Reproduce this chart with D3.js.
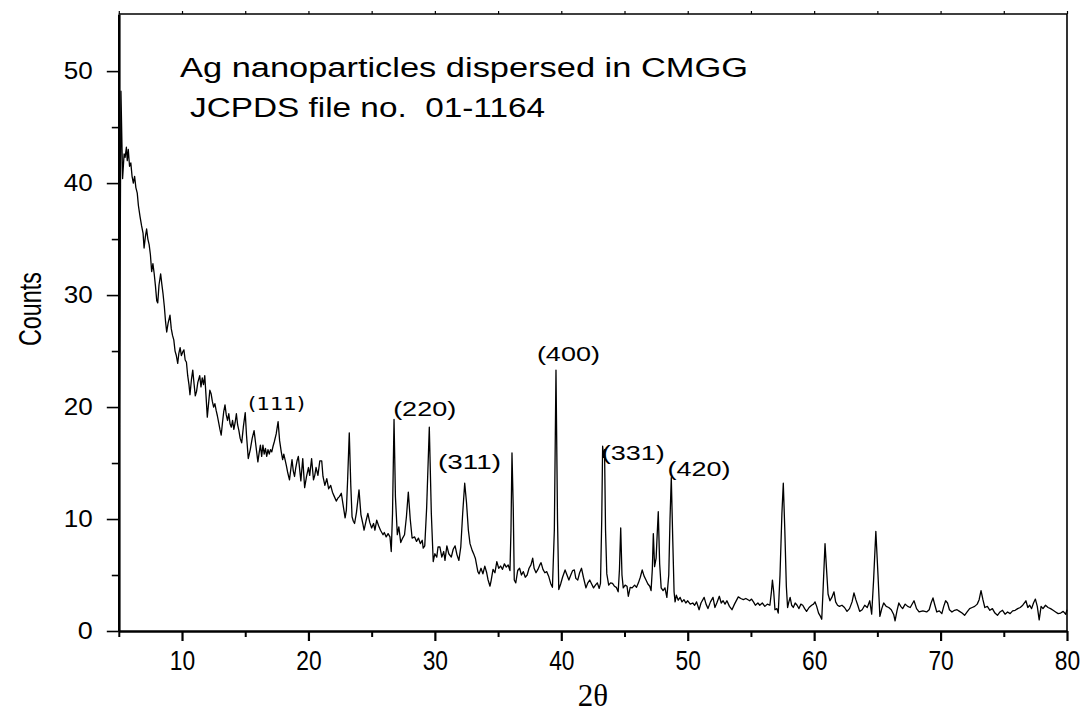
<!DOCTYPE html>
<html>
<head>
<meta charset="utf-8">
<script src="https://cdn.jsdelivr.net/npm/d3@7"></script>
<style>
  body { margin: 0; background: #fff; }
  .axis path, .axis line { stroke: #000; }
  .axis text { fill: #000; }
</style>
</head>
<body>
<div id="chart"></div>
<script>
// XRD pattern: [2theta, counts]
let pattern = [
  [5.00, 0], [5.05, 20], [5.17, 48.2], [5.30, 40.4], [5.42, 42.6], [5.50, 42.3], [5.60, 43.2], [5.67, 42.0],
  [5.75, 43.0], [5.85, 41.5], [5.95, 41.8], [6.05, 40.6], [6.15, 40.0], [6.25, 40.6], [6.35, 39.6], [6.46, 39.1],
  [6.55, 38.0], [6.68, 37.0], [6.80, 36.2], [6.92, 35.5], [7.00, 34.2], [7.10, 35.2], [7.20, 35.9], [7.30, 35.0],
  [7.40, 34.5], [7.50, 33.6], [7.60, 32.1], [7.70, 32.8], [7.80, 31.9], [7.90, 30.8], [8.00, 29.5], [8.08, 29.3],
  [8.18, 30.9], [8.31, 31.9], [8.40, 31.0], [8.50, 30.1], [8.60, 29.0], [8.70, 27.6], [8.79, 26.7], [8.90, 27.5],
  [9.05, 28.2], [9.15, 27.0], [9.25, 26.4], [9.35, 26.0], [9.45, 25.0], [9.55, 24.6], [9.66, 23.9], [9.75, 24.8],
  [9.85, 25.3], [9.95, 24.6], [10.05, 24.9], [10.15, 25.1], [10.25, 24.2], [10.35, 24.0], [10.45, 22.8], [10.55, 22.0],
  [10.63, 21.1], [10.75, 22.5], [10.85, 23.3], [10.95, 22.1], [11.05, 21.0], [11.15, 21.4], [11.25, 22.2], [11.40, 22.8],
  [11.50, 21.8], [11.60, 22.6], [11.70, 22.0], [11.80, 22.8], [11.90, 21.0], [12.00, 19.1], [12.10, 20.3], [12.20, 21.5],
  [12.30, 21.2], [12.40, 20.5], [12.50, 20.0], [12.60, 20.3], [12.70, 19.7], [12.80, 19.2], [12.90, 18.6], [13.00, 18.0],
  [13.10, 17.5], [13.20, 18.6], [13.30, 19.6], [13.40, 20.2], [13.50, 19.3], [13.60, 18.8], [13.70, 19.4], [13.80, 18.5],
  [13.90, 18.2], [14.00, 18.8], [14.10, 18.0], [14.20, 18.6], [14.30, 19.4], [14.40, 18.4], [14.50, 17.9], [14.60, 17.2],
  [14.72, 16.8], [14.85, 18.2], [15.00, 19.5], [15.10, 17.5], [15.24, 15.4], [15.40, 16.2], [15.55, 17.2], [15.70, 17.9],
  [15.85, 16.5], [16.00, 15.1], [16.10, 15.9], [16.20, 16.6], [16.30, 15.6], [16.40, 16.6], [16.50, 15.8], [16.60, 16.3],
  [16.70, 15.6], [16.80, 16.2], [16.90, 15.8], [17.00, 16.2], [17.10, 16.0], [17.20, 16.5], [17.30, 16.9], [17.45, 17.6],
  [17.60, 18.7], [17.72, 17.0], [17.85, 16.0], [17.96, 15.3], [18.05, 15.8], [18.15, 15.3], [18.25, 14.8], [18.35, 14.2],
  [18.50, 13.5], [18.60, 14.4], [18.70, 15.3], [18.80, 14.3], [18.90, 13.8], [19.00, 14.6], [19.10, 15.2], [19.20, 15.6],
  [19.30, 14.5], [19.40, 13.4], [19.55, 15.4], [19.70, 12.8], [19.85, 13.8], [20.00, 14.6], [20.10, 13.9], [20.25, 15.4],
  [20.40, 13.5], [20.50, 13.9], [20.60, 14.6], [20.75, 13.9], [20.90, 15.2], [21.05, 15.2], [21.15, 13.8], [21.30, 13.0],
  [21.45, 13.6], [21.60, 12.7], [21.76, 13.0], [21.90, 12.4], [22.05, 12.0], [22.20, 11.6], [22.35, 11.9], [22.45, 12.0],
  [22.60, 12.3], [22.75, 11.2], [22.90, 10.1], [23.00, 10.8], [23.10, 13.5], [23.23, 17.7], [23.35, 13.0], [23.45, 10.2],
  [23.55, 9.8], [23.65, 9.6], [23.80, 10.6], [24.00, 12.6], [24.15, 10.4], [24.30, 9.6], [24.40, 9.0], [24.55, 9.8],
  [24.70, 10.5], [24.85, 9.7], [25.00, 9.2], [25.15, 9.6], [25.26, 9.0], [25.40, 9.9], [25.55, 9.4], [25.70, 9.0],
  [25.90, 8.6], [26.00, 8.8], [26.15, 8.4], [26.30, 8.7], [26.45, 8.4], [26.55, 7.1], [26.65, 10.5], [26.77, 18.9],
  [26.88, 12.0], [27.03, 8.6], [27.15, 9.3], [27.30, 7.9], [27.45, 8.3], [27.60, 8.6], [27.75, 10.2], [27.90, 12.4],
  [28.05, 10.0], [28.20, 8.3], [28.40, 8.4], [28.55, 8.0], [28.70, 8.3], [28.85, 7.8], [29.00, 8.1], [29.08, 7.4],
  [29.20, 7.6], [29.35, 11.0], [29.56, 18.2], [29.72, 10.5], [29.87, 6.2], [30.00, 6.9], [30.15, 6.6], [30.25, 7.5],
  [30.40, 7.5], [30.55, 6.6], [30.70, 7.1], [30.80, 6.3], [30.95, 7.6], [31.10, 6.9], [31.30, 6.6], [31.45, 7.3],
  [31.60, 7.6], [31.75, 6.8], [31.90, 6.3], [32.05, 7.5], [32.20, 10.5], [32.36, 13.2], [32.50, 11.5], [32.65, 9.0],
  [32.78, 7.8], [32.95, 7.2], [33.10, 6.8], [33.20, 6.5], [33.40, 5.3], [33.50, 5.1], [33.65, 5.6], [33.80, 5.1],
  [33.95, 5.8], [34.10, 5.2], [34.20, 4.6], [34.36, 4.0], [34.45, 4.5], [34.60, 5.5], [34.75, 5.2], [34.90, 6.2],
  [35.05, 5.6], [35.20, 5.8], [35.35, 5.5], [35.50, 6.0], [35.65, 5.7], [35.80, 5.9], [35.94, 5.4], [36.02, 9.0],
  [36.10, 15.9], [36.20, 11.0], [36.28, 4.55], [36.40, 4.3], [36.55, 5.4], [36.70, 5.6], [36.85, 5.0], [37.00, 5.3],
  [37.15, 4.8], [37.30, 5.0], [37.45, 5.6], [37.60, 5.9], [37.74, 6.5], [37.85, 5.6], [38.00, 5.2], [38.15, 5.5],
  [38.30, 5.9], [38.40, 6.1], [38.55, 5.5], [38.70, 5.2], [38.85, 5.3], [39.00, 4.9], [39.16, 4.25], [39.30, 3.9],
  [39.45, 9.0], [39.58, 23.3], [39.70, 10.0], [39.80, 3.7], [39.95, 4.2], [40.10, 4.8], [40.30, 5.45], [40.45, 5.0],
  [40.60, 4.55], [40.75, 5.0], [40.90, 5.4], [41.03, 5.45], [41.15, 4.7], [41.30, 4.55], [41.45, 5.2], [41.60, 5.6],
  [41.75, 4.8], [41.95, 3.85], [42.10, 4.3], [42.25, 4.55], [42.40, 4.2], [42.55, 3.85], [42.70, 4.1], [42.85, 4.3],
  [43.00, 3.8], [43.10, 4.25], [43.20, 10.0], [43.27, 16.5], [43.35, 15.5], [43.42, 16.2], [43.50, 9.0], [43.60, 5.1],
  [43.75, 4.1], [43.90, 4.3], [44.05, 4.25], [44.20, 4.0], [44.35, 3.9], [44.50, 3.5], [44.60, 5.5], [44.70, 9.2],
  [44.80, 5.0], [44.90, 3.85], [45.05, 4.1], [45.20, 4.0], [45.30, 3.1], [45.45, 3.9], [45.60, 3.85], [45.80, 4.1],
  [45.95, 3.9], [46.10, 4.3], [46.25, 4.8], [46.40, 5.45], [46.55, 4.9], [46.70, 4.55], [46.85, 4.2], [47.00, 4.0],
  [47.10, 3.6], [47.20, 5.5], [47.28, 8.7], [47.38, 5.75], [47.50, 6.5], [47.60, 9.0], [47.67, 10.65], [47.78, 6.0],
  [47.90, 3.85], [48.05, 3.6], [48.20, 3.85], [48.35, 3.0], [48.50, 5.0], [48.60, 10.0], [48.70, 13.7], [48.82, 8.0],
  [48.92, 3.5], [49.00, 2.6], [49.10, 3.2], [49.25, 2.75], [49.40, 3.0], [49.55, 2.6], [49.70, 2.8], [49.85, 2.5],
  [50.00, 2.7], [50.20, 2.4], [50.40, 2.5], [50.55, 2.3], [50.70, 2.6], [50.90, 1.9], [51.05, 2.5], [51.30, 3.0],
  [51.45, 2.4], [51.60, 2.0], [51.80, 2.6], [52.00, 3.0], [52.15, 2.1], [52.30, 2.5], [52.50, 3.1], [52.65, 2.5],
  [52.80, 2.7], [52.95, 2.4], [53.10, 2.7], [53.30, 2.2], [53.50, 1.9], [53.70, 2.4], [54.00, 3.05], [54.20, 2.9],
  [54.40, 2.8], [54.60, 2.9], [54.90, 2.7], [55.05, 2.85], [55.20, 2.6], [55.35, 2.3], [55.55, 2.5], [55.70, 2.3],
  [55.90, 2.5], [56.10, 2.2], [56.30, 2.4], [56.50, 2.3], [56.62, 3.5], [56.70, 4.55], [56.80, 3.5], [56.90, 1.9],
  [57.05, 2.0], [57.16, 1.6], [57.30, 5.0], [57.45, 10.5], [57.56, 13.2], [57.68, 9.0], [57.80, 4.0], [57.90, 2.1],
  [58.00, 2.6], [58.10, 3.0], [58.22, 2.3], [58.35, 2.1], [58.50, 2.5], [58.65, 2.3], [58.80, 2.0], [58.95, 2.4],
  [59.10, 2.3], [59.25, 2.0], [59.40, 1.75], [59.60, 2.1], [59.80, 2.3], [59.95, 2.4], [60.07, 2.6], [60.20, 2.2],
  [60.35, 1.6], [60.50, 1.3], [60.60, 1.05], [60.70, 3.5], [60.86, 7.8], [60.98, 5.5], [61.10, 3.3], [61.25, 2.7],
  [61.40, 3.0], [61.57, 3.5], [61.70, 2.6], [61.85, 2.3], [62.00, 2.2], [62.20, 2.3], [62.40, 2.1], [62.60, 1.75],
  [62.80, 2.0], [63.00, 2.6], [63.15, 3.4], [63.30, 2.8], [63.45, 2.3], [63.60, 1.75], [63.80, 1.9], [64.00, 2.3],
  [64.20, 2.1], [64.40, 2.7], [64.55, 1.5], [64.70, 4.5], [64.88, 8.9], [65.05, 5.0], [65.20, 1.3], [65.35, 2.0],
  [65.50, 2.5], [65.70, 2.2], [65.90, 2.1], [66.10, 1.9], [66.30, 1.45], [66.40, 0.9], [66.55, 1.8], [66.70, 2.5],
  [66.85, 2.2], [67.00, 2.0], [67.20, 2.4], [67.40, 2.2], [67.60, 2.1], [67.90, 2.7], [68.10, 2.0], [68.30, 1.7],
  [68.60, 1.8], [68.90, 1.7], [69.10, 1.9], [69.25, 2.5], [69.40, 2.95], [69.55, 2.3], [69.70, 1.7], [69.90, 1.8],
  [70.10, 1.55], [70.25, 2.2], [70.40, 2.7], [70.55, 2.5], [70.70, 1.9], [70.90, 1.7], [71.10, 1.85], [71.30, 1.9],
  [71.50, 1.75], [71.70, 1.6], [71.90, 1.4], [72.10, 1.7], [72.30, 2.0], [72.50, 2.1], [72.70, 2.2], [72.90, 2.4],
  [73.05, 2.8], [73.20, 3.6], [73.35, 2.8], [73.50, 2.1], [73.70, 2.2], [73.90, 1.85], [74.10, 2.0], [74.30, 1.6],
  [74.50, 1.4], [74.70, 1.7], [74.90, 1.85], [75.10, 1.5], [75.30, 1.7], [75.50, 1.55], [75.70, 1.8], [75.90, 1.85],
  [76.10, 2.0], [76.30, 2.1], [76.50, 2.3], [76.75, 2.7], [76.90, 2.1], [77.05, 2.3], [77.20, 2.0], [77.35, 2.5],
  [77.50, 2.85], [77.65, 2.2], [77.80, 1.0], [77.95, 2.2], [78.10, 2.0], [78.30, 2.3], [78.50, 2.1], [78.70, 2.0],
  [78.90, 1.85], [79.10, 1.7], [79.30, 1.55], [79.50, 1.6], [79.70, 1.75], [79.90, 1.5], [80.00, 1.9]
]

let xMajorTicks = [10, 20, 30, 40, 50, 60, 70, 80]
let xMinorTicks = [5, 15, 25, 35, 45, 55, 65, 75]
let yMajorTicks = [0, 10, 20, 30, 40, 50]
let yMinorTicks = [5, 15, 25, 35, 45]

// Miller indices and where they sit (2theta, counts of the text baseline start)
let hklLabels = ['(111)', '(220)', '(311)', '(400)', '(331)', '(420)']
let hklTheta = [15.23, 26.7, 30.25, 38.07, 43.2, 48.4]
let hklCount = [19.7, 19.2, 14.5, 24.1, 15.3, 13.8]

let titleLines = ['Ag nanoparticles dispersed in CMGG', 'JCPDS file no.  01-1164']

let width = 1083
let height = 719
let margin = { top: 14, right: 16, bottom: 88, left: 118.8 }

let xScale = d3.scaleLinear()
  .domain([5, 80])
  .range([margin.left, width - margin.right])

let yScale = d3.scaleLinear()
  .domain([0, 55.1])
  .range([height - margin.bottom, margin.top])

function translation (x, y) {
  return 'translate(' + x + ',' + y + ')'
}

let svg = d3.select('#chart').append('svg')
  .attr('width', width)
  .attr('height', height)
  .style('font-family', 'Arial, "Liberation Sans", sans-serif')

// DRAW PATTERN
let line = d3.line()
  .x(function (d) { return xScale(d[0]) })
  .y(function (d) { return yScale(d[1]) })

svg.append('path')
  .datum(pattern)
  .attr('d', line)
  .attr('fill', 'none')
  .attr('stroke', '#000')
  .attr('stroke-width', 1.3)
  .attr('stroke-linejoin', 'round')

// DRAW AXES
let plotBottom = height - margin.bottom

// frame top + right
svg.append('path')
  .attr('d', 'M' + margin.left + ',' + margin.top + 'H' + (width - margin.right) + 'V' + plotBottom)
  .attr('fill', 'none')
  .attr('stroke', '#000')
  .attr('stroke-width', 1.6)

svg.append('g')
  .attr('class', 'axis x top')
  .attr('transform', translation(0, margin.top))
  .call(d3.axisTop(xScale).tickValues(xMajorTicks.concat(xMinorTicks)).tickSize(3).tickFormat(''))
  .call(function (g) { g.select('.domain').remove() })
  .selectAll('line').attr('stroke-width', 1.2)

svg.append('g')
  .attr('class', 'axis x minor')
  .attr('transform', translation(0, plotBottom))
  .call(d3.axisBottom(xScale).tickValues(xMinorTicks).tickSize(6).tickFormat(''))
  .call(function (g) { g.select('.domain').remove() })
  .selectAll('line').attr('stroke-width', 2)

let xAxis = svg.append('g')
  .attr('class', 'axis x major')
  .attr('transform', translation(0, plotBottom))
  .call(d3.axisBottom(xScale).tickValues(xMajorTicks).tickSize(10).tickSizeOuter(0).tickPadding(9))
xAxis.select('.domain').attr('stroke-width', 2.6)
xAxis.selectAll('line').attr('stroke-width', 2.2)
xAxis.selectAll('text')
  .style('font-size', '24px')
  .attr('transform', 'scale(0.95,1.15)')
  .attr('y', 17)

svg.append('g')
  .attr('class', 'axis y minor')
  .attr('transform', translation(margin.left, 0))
  .call(d3.axisLeft(yScale).tickValues(yMinorTicks).tickSize(7).tickFormat(''))
  .call(function (g) { g.select('.domain').remove() })
  .selectAll('line').attr('stroke-width', 1.6)

let yAxis = svg.append('g')
  .attr('class', 'axis y major')
  .attr('transform', translation(margin.left, 0))
  .call(d3.axisLeft(yScale).tickValues(yMajorTicks).tickSize(12).tickSizeOuter(0).tickPadding(14))
yAxis.select('.domain').attr('stroke-width', 2.6)
yAxis.selectAll('line').attr('stroke-width', 1.6)
yAxis.selectAll('text')
  .style('font-size', '23px')
  .attr('textLength', function (d) { return d === 0 ? 15 : 29 })
  .attr('lengthAdjust', 'spacingAndGlyphs')

// AXIS TITLES
svg.append('text')
  .attr('transform', translation(41, 309) + 'rotate(-90)')
  .attr('text-anchor', 'middle')
  .attr('textLength', 74)
  .attr('lengthAdjust', 'spacingAndGlyphs')
  .style('font-size', '31px')
  .text('Counts')

svg.append('text')
  .attr('x', (margin.left + width - margin.right) / 2)
  .attr('y', 706)
  .attr('text-anchor', 'middle')
  .style('font-family', '"Liberation Serif", "Times New Roman", serif')
  .style('font-size', '31px')
  .text('2θ')

// TITLE LINES
let titleX = [180, 190]
let titleY = [77, 117]
let titleW = [568, 355]
svg.selectAll('.title-line')
  .data(titleLines)
  .enter()
  .append('text')
  .attr('class', 'title-line')
  .attr('x', function (d, i) { return titleX[i] })
  .attr('y', function (d, i) { return titleY[i] })
  .attr('textLength', function (d, i) { return titleW[i] })
  .attr('lengthAdjust', 'spacingAndGlyphs')
  .style('white-space', 'pre')
  .style('font-size', '27px')
  .text(function (d) { return d })

// PEAK LABELS
svg.selectAll('.hkl')
  .data(hklLabels)
  .enter()
  .append('text')
  .attr('class', 'hkl')
  .attr('x', function (d, i) { return xScale(hklTheta[i]) })
  .attr('y', function (d, i) { return yScale(hklCount[i]) })
  .attr('textLength', function (d, i) { return i === 0 ? 57 : 63 })
  .attr('lengthAdjust', 'spacingAndGlyphs')
  .style('font-family', function (d, i) { return i === 0 ? '"DejaVu Sans", Verdana, sans-serif' : 'Arial, "Liberation Sans", sans-serif' })
  .style('font-size', function (d, i) { return i === 0 ? '18px' : '20px' })
  .text(function (d) { return d })
</script>
</body>
</html>
